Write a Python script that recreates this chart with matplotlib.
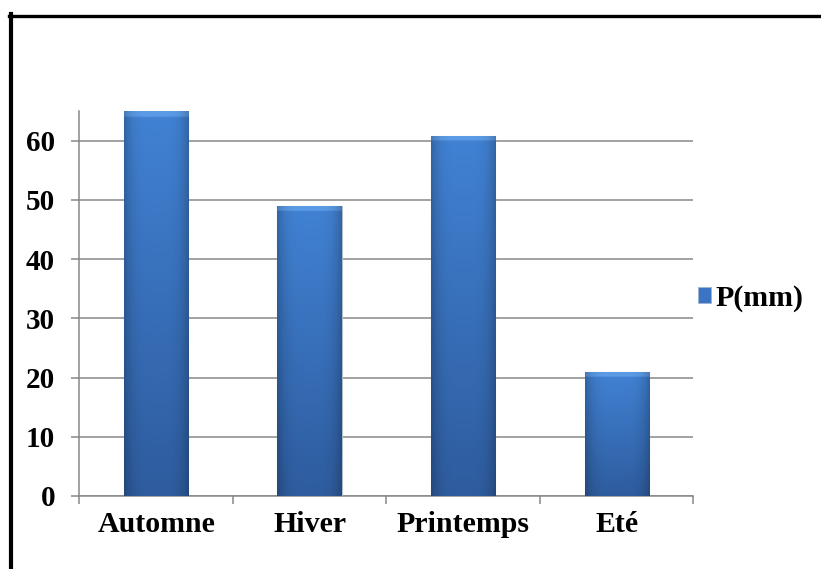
import matplotlib
matplotlib.use("Agg")
import matplotlib.pyplot as plt
import numpy as np
from matplotlib.lines import Line2D
from matplotlib.patches import Patch

# data
seasons = ["Automne", "Hiver", "Printemps", "Eté"]
precip_mm = [65.0, 49.0, 60.8, 21.0]
y_ticks = [0, 10, 20, 30, 40, 50, 60]
series_name = "P(mm)"

plt.rcParams['font.family'] = ['Liberation Serif', 'DejaVu Serif']
plt.rcParams['font.weight'] = 'bold'

grid_col = '#878787'
dark = np.array([0x2e, 0x5c, 0x9e]) / 255
light = np.array([0x41, 0x82, 0xd4]) / 255
cap = np.array([0x5c, 0x9c, 0xe6]) / 255

fig = plt.figure(figsize=(8.21, 5.69), dpi=100)
ax = fig.add_axes([0.0968, 0.1283, 0.7479, 0.6766])

x = np.arange(len(seasons))
bars = ax.bar(x, precip_mm, width=0.42, color='#3a72bd',
              edgecolor='#b4bcc6', linewidth=0.8, zorder=3)

# shaded fill for each bar (vertical + side shading, lighter top cap)
for b in bars:
    bx, by = b.get_x(), b.get_y()
    bw, bh = b.get_width(), b.get_height()
    ys = np.linspace(0, bh, 200)
    xs = np.linspace(0, 1, 60)
    t = (ys / bh)[:, None, None]
    col = dark + (light - dark) * t
    side = 1 - 0.22 * (np.abs(xs - 0.5) * 2) ** 4
    img = col * side[None, :, None]
    top = (bh - ys) < 0.9
    img[top] = cap * side[:, None]
    img = np.clip(img, 0, 1)
    im = ax.imshow(img, extent=[bx, bx + bw, 0, bh], origin='lower',
                   aspect='auto', zorder=4, interpolation='bilinear')
    im.set_clip_path(b)

ax.set_xlim(-0.5, len(seasons) - 0.5)
ax.set_ylim(0, 65)
ax.set_yticks(y_ticks)
ax.set_yticklabels([str(v) for v in y_ticks], fontsize=21, fontweight='bold')
ax.set_xticks(x)
ax.set_xticklabels(seasons, fontsize=21.5, fontweight='bold')
ax.set_xticks(np.arange(len(seasons) + 1) - 0.5, minor=True)

ax.yaxis.grid(True, color=grid_col, linewidth=1.1, zorder=0)
ax.set_axisbelow(True)
for s in ['top', 'right']:
    ax.spines[s].set_visible(False)
for s in ['left', 'bottom']:
    ax.spines[s].set_color(grid_col)
    ax.spines[s].set_linewidth(1.1)
ax.tick_params(axis='y', length=5.5, width=1.1, color=grid_col, pad=12)
ax.tick_params(axis='x', which='major', length=0, pad=11)
ax.tick_params(axis='x', which='minor', length=5.5, width=1.1, color=grid_col)

handle = Patch(facecolor='#3a74c2', edgecolor='#9fb3cc', linewidth=0.5)
ax.legend([handle], [series_name], loc='center left',
          bbox_to_anchor=(0.850, 0.475), bbox_transform=fig.transFigure,
          frameon=False, prop={'size': 21.5, 'weight': 'bold'},
          handlelength=0.45, handleheight=0.45, handletextpad=0.15,
          borderpad=0, borderaxespad=0)

# frame lines at left and top of the picture
fig.add_artist(Line2D([10.5 / 821, 10.5 / 821], [0, 1 - 14 / 569],
                      transform=fig.transFigure, color='black', lw=3.0))
fig.add_artist(Line2D([8.5 / 821, 1], [1 - 15.5 / 569, 1 - 15.5 / 569],
                      transform=fig.transFigure, color='black', lw=2.4))

fig.savefig('out.png', dpi=100)
